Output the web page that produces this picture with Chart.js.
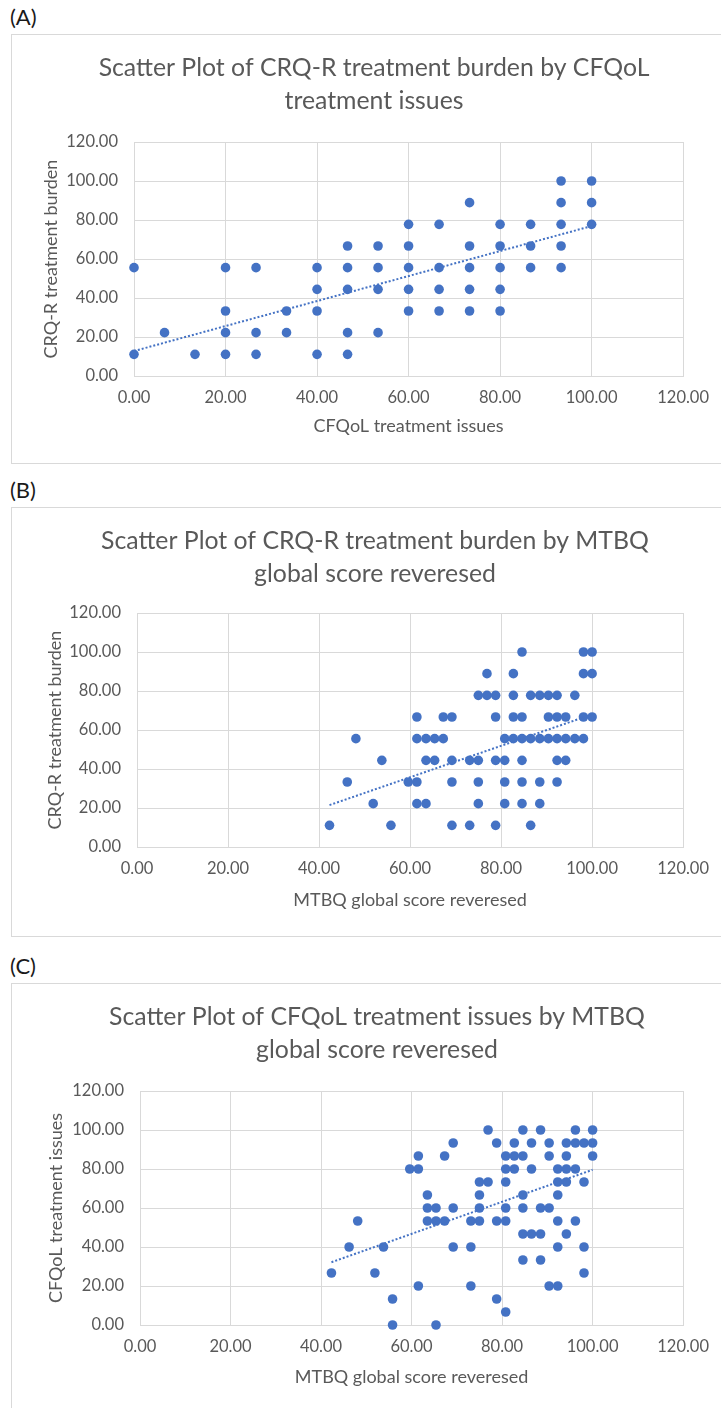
<!DOCTYPE html>
<html><head><meta charset="utf-8">
<script src="https://cdn.jsdelivr.net/npm/chart.js@4.4.1/dist/chart.umd.min.js"></script>
<style>
html,body{margin:0;padding:0;background:#fff;width:721px;height:1408px;overflow:hidden;position:relative;font-family:Lato,sans-serif}
.box{position:absolute;border:1px solid #D9D9D9;box-sizing:border-box}
.lbl{position:absolute;font-family:Lato,sans-serif;font-size:22px;color:#1a1a1a;line-height:22px}
canvas{position:absolute;left:0}
</style></head><body>
<script>
// ---------------- DATA ----------------
// (A) CRQ-R treatment burden (y) by CFQoL treatment issues (x)
const cfqolA = [0,0,6.67,13.33,20,20,20,20,26.67,26.67,26.67,33.33,33.33,40,40,40,40,
  46.67,46.67,46.67,46.67,46.67,53.33,53.33,53.33,53.33,60,60,60,60,60,66.67,66.67,66.67,66.67,
  73.33,73.33,73.33,73.33,73.33,80,80,80,80,80,86.67,86.67,86.67,93.33,93.33,93.33,93.33,93.33,100,100,100];
const crqA = [55.56,11.11,22.22,11.11,55.56,33.33,22.22,11.11,55.56,22.22,11.11,33.33,22.22,55.56,44.44,33.33,11.11,
  66.67,55.56,44.44,22.22,11.11,66.67,55.56,44.44,22.22,77.78,66.67,55.56,44.44,33.33,77.78,55.56,44.44,33.33,
  88.89,66.67,55.56,44.44,33.33,77.78,66.67,55.56,44.44,33.33,77.78,66.67,55.56,100,88.89,77.78,66.67,55.56,100,88.89,77.78];
const trendAx = [0, 100];
const trendAy = [12.8, 76.9];

// (B) CRQ-R treatment burden (y) by MTBQ global score reversed (x)
const mtbqB = [84.6,98.1,100,
  76.9,82.7,98.1,100,
  75.0,76.9,78.8,82.7,86.5,88.5,90.4,92.3,96.2,
  61.5,67.3,69.2,78.8,82.7,84.6,90.4,92.3,94.2,98.1,100,
  48.1,61.5,63.5,65.4,67.3,80.8,82.7,84.6,86.5,88.5,90.4,92.3,94.2,96.2,98.1,
  53.8,63.5,65.4,69.2,73.1,75.0,78.8,80.8,84.6,92.3,94.2,
  46.2,59.6,61.5,69.2,75.0,80.8,84.6,88.5,92.3,
  51.9,61.5,63.5,75.0,80.8,84.6,88.5,
  42.3,55.8,69.2,73.1,78.8,86.5];
const crqB = [100,100,100,
  88.89,88.89,88.89,88.89,
  77.78,77.78,77.78,77.78,77.78,77.78,77.78,77.78,77.78,
  66.67,66.67,66.67,66.67,66.67,66.67,66.67,66.67,66.67,66.67,66.67,
  55.56,55.56,55.56,55.56,55.56,55.56,55.56,55.56,55.56,55.56,55.56,55.56,55.56,55.56,55.56,
  44.44,44.44,44.44,44.44,44.44,44.44,44.44,44.44,44.44,44.44,44.44,
  33.33,33.33,33.33,33.33,33.33,33.33,33.33,33.33,33.33,
  22.22,22.22,22.22,22.22,22.22,22.22,22.22,
  11.11,11.11,11.11,11.11,11.11,11.11];
const trendBx = [42.3, 100];
const trendBy = [21.5, 68.0];

// (C) CFQoL treatment issues (y) by MTBQ global score reversed (x)
const mtbqC = [76.9,84.6,88.5,96.2,100,
  69.2,78.8,82.7,86.5,90.4,94.2,96.2,98.1,100,
  61.5,67.3,80.8,82.7,84.6,90.4,94.2,100,
  59.6,61.5,80.8,82.7,86.5,92.3,94.2,96.2,
  75.0,76.9,80.8,92.3,94.2,98.1,
  63.5,75.0,84.6,92.3,
  63.5,65.4,69.2,75.0,80.8,84.6,88.5,90.4,
  48.1,63.5,65.4,67.3,73.1,75.0,78.8,80.8,92.3,96.2,
  84.6,86.5,88.5,94.2,
  46.2,53.8,69.2,73.1,92.3,98.1,
  84.6,88.5,
  42.3,51.9,98.1,
  61.5,73.1,90.4,92.3,
  55.8,78.8,
  80.8,
  55.8,65.4];
const cfqolC = [100,100,100,100,100,
  93.33,93.33,93.33,93.33,93.33,93.33,93.33,93.33,93.33,
  86.67,86.67,86.67,86.67,86.67,86.67,86.67,86.67,
  80,80,80,80,80,80,80,80,
  73.33,73.33,73.33,73.33,73.33,73.33,
  66.67,66.67,66.67,66.67,
  60,60,60,60,60,60,60,60,
  53.33,53.33,53.33,53.33,53.33,53.33,53.33,53.33,53.33,53.33,
  46.67,46.67,46.67,46.67,
  40,40,40,40,40,40,
  33.33,33.33,
  26.67,26.67,26.67,
  20,20,20,20,
  13.33,13.33,
  6.67,
  0,0];
const trendCx = [42.3, 100];
const trendCy = [32.2, 79.6];

const axisTicks = [0, 20, 40, 60, 80, 100, 120];

const panelLabels = ['(A)', '(B)', '(C)'];
const titlesA = ['Scatter Plot of CRQ-R treatment burden by CFQoL', 'treatment issues'];
const titlesB = ['Scatter Plot of CRQ-R treatment burden by MTBQ', 'global score reveresed'];
const titlesC = ['Scatter Plot of CFQoL treatment issues by MTBQ', 'global score reveresed'];
const xTitles = ['CFQoL treatment issues', 'MTBQ global score reveresed', 'MTBQ global score reveresed'];
const yTitles = ['CRQ-R treatment burden', 'CRQ-R treatment burden', 'CFQoL treatment issues'];

// ---------------- LAYOUT (page pixels) ----------------
const layouts = [
  {T:34,  H:430, boxH:430, plotL:134, plotR:685, plotTop:142,  plotBottom:376,  title1Y:68,   xTitleY:426,  yTitleX:51, titleCX:374},
  {T:507, H:430, boxH:430, plotL:137, plotR:687, plotTop:613,  plotBottom:847,  title1Y:541,  xTitleY:900,  yTitleX:55, titleCX:375},
  {T:983, H:425, boxH:460, plotL:140, plotR:690, plotTop:1091, plotBottom:1325, title1Y:1017, xTitleY:1377, yTitleX:56, titleCX:377}
];

const BLUE = '#4472C4';
const GRID = '#D9D9D9';
const TXT = '#595959';
const FONT = 'Lato, sans-serif';
const TITLE_SIZE = 24.8;
const AXT_SIZE = 18;
const TICK_SIZE = 16.5;

function toPts(xs, ys) { return xs.map((x, i) => ({x: x, y: ys[i]})); }

function build(idx, xs, ys, tx, ty, titleLines) {
  const L = layouts[idx];
  const box = document.createElement('div');
  box.className = 'box';
  box.style.left = '11px'; box.style.top = L.T + 'px';
  box.style.width = '731px'; box.style.height = L.boxH + 'px';
  document.body.appendChild(box);

  const lbl = document.createElement('div');
  lbl.className = 'lbl';
  lbl.textContent = panelLabels[idx];
  lbl.style.left = '10px'; lbl.style.top = (L.T - 28) + 'px';
  document.body.appendChild(lbl);

  const cv = document.createElement('canvas');
  cv.width = 721; cv.height = L.H;
  cv.style.top = L.T + 'px';
  cv.style.width = '721px'; cv.style.height = L.H + 'px';
  document.body.appendChild(cv);

  const pl = 2 * L.titleCX - L.plotR;
  const pr = 721 - L.plotR;
  const titleLH = 33;
  const tPadTop = (L.title1Y - L.T) - titleLH / 2;
  const tPadBottom = (L.plotTop - L.T) - tPadTop - 2 * titleLH;
  const axLH = AXT_SIZE * 1.2;
  const xBottom = L.xTitleY - L.T + axLH / 2;
  const padBottom = L.H - xBottom;
  const xHeight = xBottom - (L.plotBottom - L.T);
  const yWidth = L.plotL - pl;
  const yTitlePad = L.yTitleX - pl - axLH / 2;

  const tickFont = {family: FONT, size: TICK_SIZE, lineHeight: 1.2};
  const setTicks = s => { s.ticks = axisTicks.map(v => ({value: v})); };

  new Chart(cv, {
    type: 'scatter',
    data: {datasets: [
      {type: 'line', data: toPts(tx, ty), borderColor: BLUE, borderWidth: 2, borderDash: [2, 2],
       pointRadius: 0, fill: false, tension: 0, clip: false},
      {data: toPts(xs, ys), backgroundColor: BLUE, borderColor: BLUE, pointRadius: 4.8,
       borderWidth: 0, clip: false}
    ]},
    options: {
      responsive: false, animation: false, events: [],
      layout: {padding: {left: pl, right: pr, top: 0, bottom: padBottom}},
      plugins: {
        legend: {display: false}, tooltip: {enabled: false},
        title: {display: true, text: titleLines, color: TXT,
          font: {family: FONT, size: TITLE_SIZE, weight: 'normal', lineHeight: titleLH / TITLE_SIZE},
          padding: {top: tPadTop, bottom: tPadBottom}}
      },
      scales: {
        x: {type: 'linear', min: 0, max: 120, afterBuildTicks: setTicks,
          afterFit: s => { s.height = xHeight; },
          grid: {color: GRID, lineWidth: 1, drawTicks: false},
          border: {color: GRID, width: 1},
          ticks: {padding: 12, color: TXT, font: tickFont, maxRotation: 0, autoSkip: false,
            callback: v => Number(v).toFixed(2)},
          title: {display: true, text: xTitles[idx], color: TXT,
            font: {family: FONT, size: AXT_SIZE, lineHeight: 1.2}, padding: {top: 0, bottom: 0}}
        },
        y: {type: 'linear', min: 0, max: 120, afterBuildTicks: setTicks,
          afterFit: s => { s.width = yWidth; },
          grid: {color: GRID, lineWidth: 1, drawTicks: false},
          border: {color: GRID, width: 1},
          ticks: {padding: 16, color: TXT, font: tickFont, autoSkip: false,
            callback: v => Number(v).toFixed(2)},
          title: {display: true, text: yTitles[idx], color: TXT,
            font: {family: FONT, size: AXT_SIZE, lineHeight: 1.2}, padding: {top: yTitlePad, bottom: 0}}
        }
      }
    }
  });
}

build(0, cfqolA, crqA, trendAx, trendAy, titlesA);
build(1, mtbqB, crqB, trendBx, trendBy, titlesB);
build(2, mtbqC, cfqolC, trendCx, trendCy, titlesC);
</script>
</body></html>
